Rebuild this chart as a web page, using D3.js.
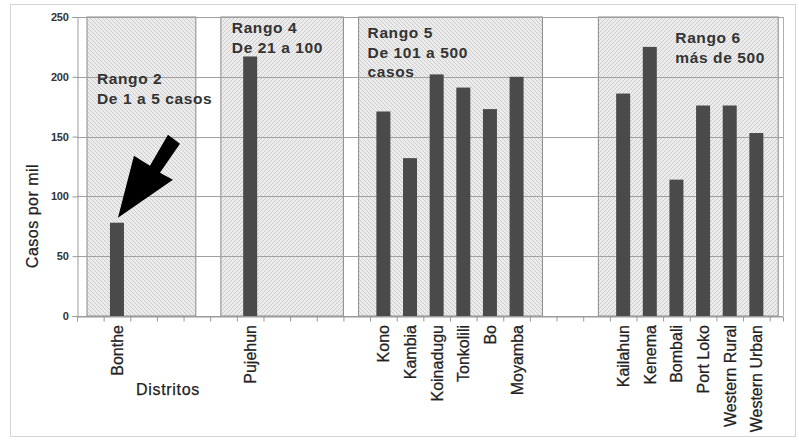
<!DOCTYPE html>
<html><head><meta charset="utf-8">
<script src="https://cdn.jsdelivr.net/npm/d3@7"></script>
<style>
html,body{margin:0;padding:0;background:#fff;}
text{font-family:"Liberation Sans",Arial,sans-serif;}
</style></head>
<body>
<svg id="chart" width="799" height="441"></svg>
<script>
// ---- data ----
const districts = ["Bonthe","Pujehun","Kono","Kambia","Koinadugu","Tonkolili","Bo","Moyamba","Kailahun","Kenema","Bombali","Port Loko","Western Rural","Western Urban"];
const slots     = [1, 6, 11, 12, 13, 14, 15, 16, 20, 21, 22, 23, 24, 25];
const casesPerThousand = [78, 217, 171, 132, 202, 191, 173, 200, 186, 225, 114, 176, 176, 153];
const yTicks = [0, 50, 100, 150, 200, 250];
const groupLabels = [["Rango 2","De 1 a 5 casos"],["Rango 4","De 21 a 100"],["Rango 5","De 101 a 500","casos"],["Rango 6","más de 500"]];
const groupFrom = [0.375, 5.4, 10.57, 19.57];
const groupTo   = [4.46, 10.0, 17.47, 26.32];
const yTitle = "Casos por mil";
const xTitle = "Distritos";

// ---- layout ----
const svg = d3.select("#chart");
const x = d3.scaleLinear().domain([0, 26.5]).range([77, 783]);
const y = d3.scaleLinear().domain([0, 250]).range([316, 17]);
const barW = 14;

// outer frame
svg.append("rect").attr("x",10.5).attr("y",4.5).attr("width",785).attr("height",432)
  .attr("fill","#fff").attr("stroke","#d4d4d4").attr("stroke-width",1);

// hatch patterns
const defs = svg.append("defs");
function hatch(id, dir){
  const p = defs.append("pattern").attr("id",id).attr("patternUnits","userSpaceOnUse")
    .attr("width",4).attr("height",4);
  p.append("rect").attr("width",4).attr("height",4).attr("fill","#ececec");
  const path = p.append("path")
    .attr("d", dir>0 ? "M-1,1 l2,-2 M0,4 l4,-4 M3,5 l2,-2" : "M-1,3 l2,2 M0,0 l4,4 M3,-1 l2,2");
  path.attr("stroke","#c9c9c9").attr("stroke-width",0.9);
}
hatch("hBack",-1); hatch("hFwd",1);
const hatchIds = ["hBack","hFwd","hBack","hFwd"];

// group boxes
svg.append("g").selectAll("rect").data(groupFrom).join("rect")
  .attr("x",(d)=>x(d)).attr("y",y(250))
  .attr("width",(d,i)=>x(groupTo[i])-x(d)).attr("height",y(0)-y(250))
  .attr("fill",(d,i)=>`url(#${hatchIds[i]})`)
  .attr("stroke","#8a8a8a").attr("stroke-width",1);

// horizontal grid
svg.append("g").selectAll("line").data(yTicks).join("line")
  .attr("x1",x(0)).attr("x2",x(26.5))
  .attr("y1",d=>Math.round(y(d))+0.5).attr("y2",d=>Math.round(y(d))+0.5)
  .attr("stroke","#a0a0a0").attr("stroke-width",1);
// right edge
svg.append("line").attr("x1",x(26.5)+0.5).attr("x2",x(26.5)+0.5).attr("y1",y(250)).attr("y2",y(0))
  .attr("stroke","#b0b0b0");

// y axis
const yAxis = d3.axisLeft(y).tickValues(yTicks).tickSize(5).tickPadding(4);
const gy = svg.append("g").attr("transform",`translate(${x(0)+0.5},0)`).call(yAxis);
gy.select(".domain").attr("stroke","#999");
gy.selectAll(".tick line").attr("stroke","#999");
gy.selectAll(".tick text").attr("fill","#333").style("font-size","11px").style("font-weight","bold").style("letter-spacing","-0.3px");

// x axis (slot ticks)
const xAxis = d3.axisBottom(x).tickValues(d3.range(0,27)).tickSize(5).tickFormat("");
const gx = svg.append("g").attr("transform",`translate(0,${y(0)+0.5})`).call(xAxis);
gx.select(".domain").attr("stroke","#999");
gx.selectAll(".tick line").attr("stroke","#999");

// bars
svg.append("g").selectAll("rect").data(casesPerThousand).join("rect")
  .attr("x",(d,i)=>x(slots[i]+0.5)-barW/2).attr("width",barW)
  .attr("y",d=>y(d)).attr("height",d=>y(0)-y(d))
  .attr("fill","#4a4a4a");

// district labels
svg.append("g").selectAll("text").data(districts).join("text")
  .attr("transform",(d,i)=>`translate(${x(slots[i]+0.5)+6},${y(0)+9}) rotate(-90)`)
  .attr("text-anchor","end").attr("fill","#222")
  .attr("stroke","#222").attr("stroke-width",0.25)
  .style("font-size","16px")
  .text(d=>d);

// group labels
const lg = svg.append("g");
const labelDx = [10, 11, 9, 77];
const labelTop = [84, 33, 38, 43];
groupLabels.forEach((lines,i)=>{
  lines.forEach((t,j)=>{
    lg.append("text").attr("x",x(groupFrom[i])+labelDx[i]).attr("y",labelTop[i]+j*19.5)
      .attr("fill","#333").style("font-size","15.5px").style("font-weight","bold")
      .style("letter-spacing","0.6px").text(t);
  });
});

// axis titles
svg.append("text").attr("transform","translate(38,216) rotate(-90)").attr("text-anchor","middle")
  .attr("fill","#222").attr("stroke","#222").attr("stroke-width",0.25)
  .style("font-size","16px").style("letter-spacing","0.5px").text(yTitle);
svg.append("text").attr("x",168).attr("y",395).attr("text-anchor","middle")
  .attr("fill","#222").attr("stroke","#222").attr("stroke-width",0.25)
  .style("font-size","16px").style("letter-spacing","0.7px").text(xTitle);

// arrow pointing to Bonthe bar
const tipX = x(slots[0]+0.5)+1, tipY = y(casesPerThousand[0])-5;
const arrowShape = [[0,0],[16,-62],[32,-52],[50,-83],[62,-74],[42,-45],[55,-38]];
svg.append("path")
  .attr("d", d3.line()(arrowShape.map(([a,b])=>[tipX+a,tipY+b])) + "Z")
  .attr("fill","#000");
</script>
</body></html>
